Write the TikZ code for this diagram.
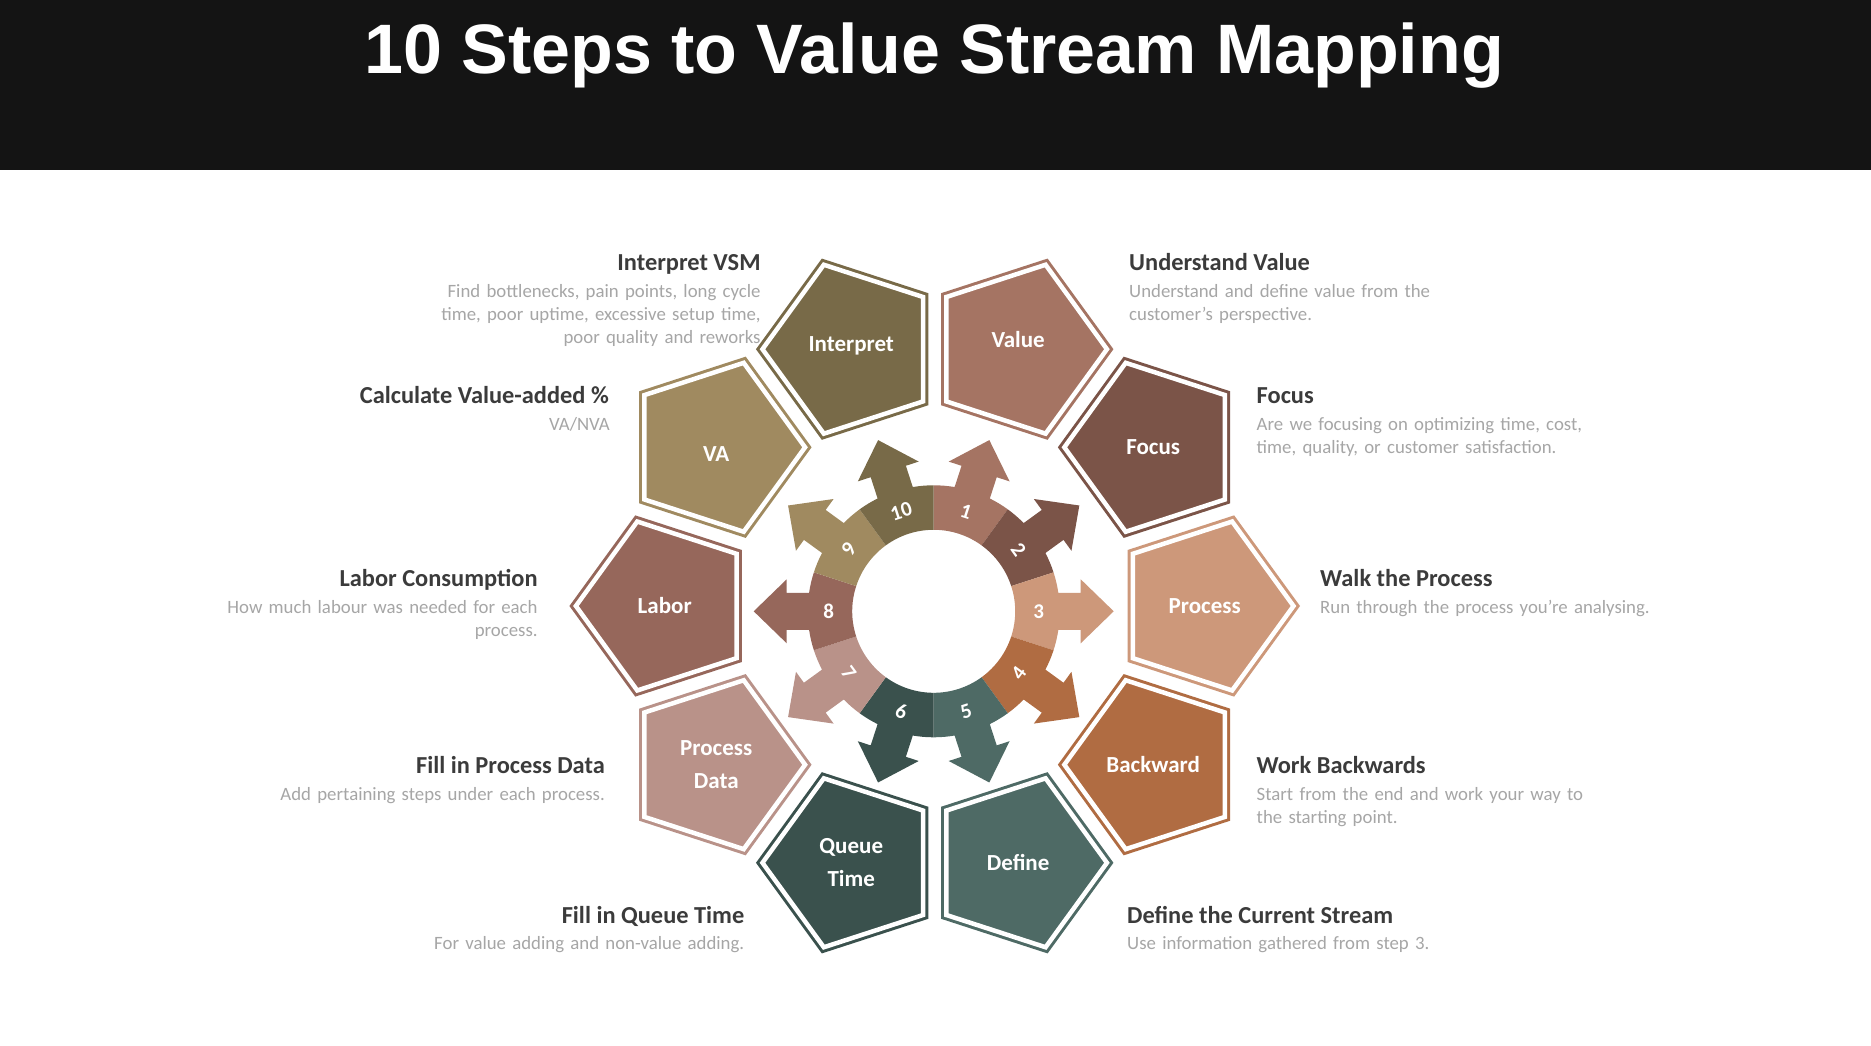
\documentclass[tikz,border=0pt]{standalone}
\usepackage{fontspec}
\setmainfont{Carlito}
\newfontfamily\headfont{Liberation Sans}
\usepackage{xcolor}
\definecolor{MapInk}{HTML}{141414}
\definecolor{MapTitle}{HTML}{3B3B3B}
\definecolor{MapNote}{HTML}{A6A6A6}
\definecolor{StepOne}{HTML}{A57463}
\definecolor{StepTwo}{HTML}{7B5448}
\definecolor{StepThree}{HTML}{CD987A}
\definecolor{StepFour}{HTML}{B06C42}
\definecolor{StepFive}{HTML}{4E6A65}
\definecolor{StepSix}{HTML}{3A514D}
\definecolor{StepSeven}{HTML}{B99289}
\definecolor{StepEight}{HTML}{96675B}
\definecolor{StepNine}{HTML}{A08A60}
\definecolor{StepTen}{HTML}{786A48}
\usepackage{tikz}
\usetikzlibrary{shapes.geometric}
\tikzset{
  steppent/.style={regular polygon,regular polygon sides=5,minimum size=177.6pt,inner sep=0pt,draw=#1,fill=#1,line width=3pt,double=white,double distance=4.5pt,text=white,align=center,font=\bfseries\fontsize{23}{33.5}\selectfont},
  steptitle/.style={inner sep=0pt,text=MapTitle,font=\bfseries\fontsize{24.4}{29}\selectfont},
  stepnote/.style={inner sep=0pt,text=MapNote,text width=340pt,font=\fontsize{18.8}{23.3}\selectfont},
  stepnum/.style={inner sep=0pt,text=white,font=\bfseries\fontsize{21}{25}\selectfont},
  stepseg/.pic={
    \fill[pic actions] (-18:81.5) -- (-18:126) arc[start angle=-18,end angle=-8.44,radius=126] -- (147,-18.5) -- (147,-32) -- (180,0) -- (147,32) -- (147,18.5) -- (8.44:126) arc[start angle=8.44,end angle=18,radius=126] -- (18:81.5) arc[start angle=18,end angle=-18,radius=81.5] -- cycle;
  }
}

\begin{document}
\begin{tikzpicture}[x=1pt,y=1pt]
  \useasboundingbox (0,0) rectangle (1871,1045);
  \fill[white] (0,0) rectangle (1871,1045);
  \node[fill=MapInk,minimum width=1871pt,minimum height=170pt,inner sep=0pt,anchor=north west] (header) at (0,1045) {};
  \node[text=white,inner sep=0pt,anchor=base,font=\headfont\bfseries\fontsize{70}{84}\selectfont] (title) at (934,971) {10 Steps to Value Stream Mapping};

  \coordinate (wheel) at (933.7,433.7);
  \coordinate (ring) at (934.7,439);

  \node[steptitle,anchor=base west] (t1) at (1129,774.5) {Understand Value};
  \node[stepnote,anchor=base west,align=left] (d1) at (1129,747.8) {Understand and define value from the\\customer’s perspective.};
  \node[steptitle,anchor=base west] (t2) at (1256.5,641) {Focus};
  \node[stepnote,anchor=base west,align=left] (d2) at (1256.5,614.3) {Are we focusing on optimizing time, cost,\\time, quality, or customer satisfaction.};
  \node[steptitle,anchor=base west] (t3) at (1320,458) {Walk the Process};
  \node[stepnote,anchor=base west,align=left] (d3) at (1320,431.3) {Run through the process you’re analysing.};
  \node[steptitle,anchor=base west] (t4) at (1256.5,271.7) {Work Backwards};
  \node[stepnote,anchor=base west,align=left] (d4) at (1256.5,245) {Start from the end and work your way to\\the starting point.};
  \node[steptitle,anchor=base west] (t5) at (1127,122) {Define the Current Stream};
  \node[stepnote,anchor=base west,align=left] (d5) at (1127,95.3) {Use information gathered from step 3.};
  \node[steptitle,anchor=base east] (t6) at (744.5,122) {Fill in Queue Time};
  \node[stepnote,anchor=base east,align=right] (d6) at (744.5,95.3) {For value adding and non-value adding.};
  \node[steptitle,anchor=base east] (t7) at (605,271.7) {Fill in Process Data};
  \node[stepnote,anchor=base east,align=right] (d7) at (605,245) {Add pertaining steps under each process.};
  \node[steptitle,anchor=base east] (t8) at (537.8,458) {Labor Consumption};
  \node[stepnote,anchor=base east,align=right] (d8) at (537.8,431.3) {How much labour was needed for each\\process.};
  \node[steptitle,anchor=base east] (t9) at (609,641) {Calculate Value-added \%};
  \node[stepnote,anchor=base east,align=right] (d9) at (610,614.3) {VA/NVA};
  \node[steptitle,anchor=base east] (t10) at (760.8,774.5) {Interpret VSM};
  \node[stepnote,anchor=base east,align=right] (d10) at (760.8,747.8) {Find bottlenecks, pain points, long cycle\\time, poor uptime, excessive setup time,\\poor quality and reworks};

  \begin{scope}[shift={(ring)}]
    \node[steppent=StepOne,shape border rotate=-18,text depth=20pt] (value) at (72:270) {Value};
    \node[steppent=StepTwo,shape border rotate=-54] (focus) at (36:270) {Focus};
    \node[steppent=StepThree,shape border rotate=-90] (process) at (0:270) {Process};
    \node[steppent=StepFour,shape border rotate=234] (backward) at (324:270) {Backward};
    \node[steppent=StepFive,shape border rotate=198] (define) at (288:270) {Define};
    \node[steppent=StepSix,shape border rotate=162] (queue) at (252:270) {Queue\\Time};
    \node[steppent=StepSeven,shape border rotate=126] (procdata) at (216:270) {Process\\Data};
    \node[steppent=StepEight,shape border rotate=90] (labor) at (180:270) {Labor};
    \node[steppent=StepNine,shape border rotate=54,text height=28.8pt] (va) at (144:270) {VA};
    \node[steppent=StepTen,shape border rotate=18,text depth=10pt] (interpret) at (108:270) {Interpret};
  \end{scope}

  \pic[fill=StepOne,rotate=72] (seg1) at (wheel) {stepseg};
  \pic[fill=StepTwo,rotate=36] (seg2) at (wheel) {stepseg};
  \pic[fill=StepThree,rotate=0] (seg3) at (wheel) {stepseg};
  \pic[fill=StepFour,rotate=324] (seg4) at (wheel) {stepseg};
  \pic[fill=StepFive,rotate=288] (seg5) at (wheel) {stepseg};
  \pic[fill=StepSix,rotate=252] (seg6) at (wheel) {stepseg};
  \pic[fill=StepSeven,rotate=216] (seg7) at (wheel) {stepseg};
  \pic[fill=StepEight,rotate=180] (seg8) at (wheel) {stepseg};
  \pic[fill=StepNine,rotate=144] (seg9) at (wheel) {stepseg};
  \pic[fill=StepTen,rotate=108] (seg10) at (wheel) {stepseg};

  \begin{scope}[shift={(wheel)}]
    \node[stepnum,rotate=-18] (num1) at (72:105) {1};
    \node[stepnum,rotate=-54] (num2) at (36:105) {2};
    \node[stepnum] (num3) at (0:105) {3};
    \node[stepnum,rotate=54] (num4) at (324:105) {4};
    \node[stepnum,rotate=18] (num5) at (288:105) {5};
    \node[stepnum,rotate=-18] (num6) at (252:105) {6};
    \node[stepnum,rotate=-54] (num7) at (216:105) {7};
    \node[stepnum] (num8) at (180:105) {8};
    \node[stepnum,rotate=54] (num9) at (144:105) {9};
    \node[stepnum,rotate=18] (num10) at (108:105) {10};
  \end{scope}
\end{tikzpicture}
\end{document}
